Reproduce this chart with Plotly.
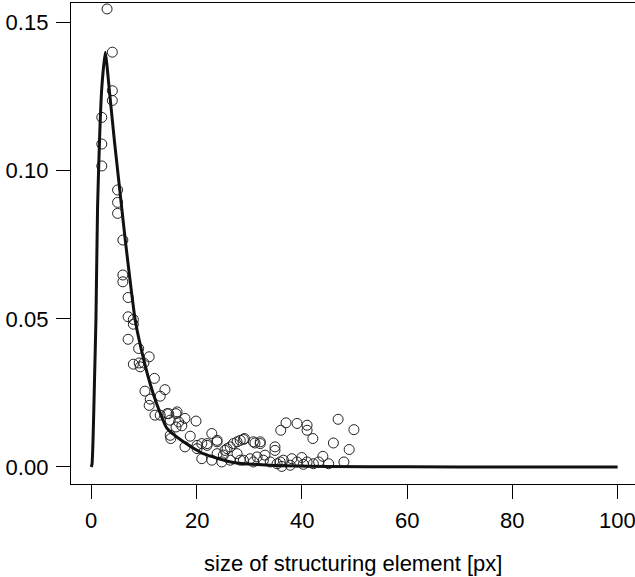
import plotly.graph_objects as go

# scatter observations (x: size of structuring element, y: frequency)
pts_x = [2, 2, 2, 3, 4, 4, 4, 5, 5, 5, 6, 6, 6, 7, 7, 7, 8, 8, 8,
         9, 9.1, 9.3, 10, 10.2, 11, 11.2, 11, 12, 12.1, 13.1, 13.1, 14, 14.4,
         15, 15, 15.1, 14.7, 16.1, 16.1, 16.3, 16.6, 17.2, 17.8, 17.8, 18.8,
         19.9, 20.1, 20.1, 21, 21, 22, 22, 22.9, 22.9, 23.9, 23.9, 23.9,
         25.1, 24.8, 25.4, 25.8, 26.4, 26.4, 27, 27.7, 28.3, 27.7, 28.3,
         29.1, 28.9, 28.9, 30.2, 30.8, 30.8, 31.1, 32.1, 31.5, 32.1, 32.7,
         33, 34, 34.9, 34.9, 35.3, 36, 35.9, 36.5, 36.2, 37, 38.1, 37.8,
         39.1, 39.1, 40, 40.3, 41, 41, 41, 42.1, 42.2, 43.2, 44, 45.1, 46,
         46.9, 48, 49, 49.9]
pts_y = [0.118, 0.109, 0.1016, 0.1546, 0.140, 0.127, 0.1237, 0.0935, 0.0893, 0.0856,
         0.0766, 0.0648, 0.0625, 0.0572, 0.0507, 0.0431, 0.0498, 0.0482, 0.0347,
         0.040, 0.0351, 0.0338, 0.0351, 0.0256, 0.0372, 0.0229, 0.0208, 0.0299,
         0.0175, 0.0239, 0.0175, 0.0261, 0.018,
         0.0158, 0.0107, 0.0096, 0.018, 0.018, 0.0135, 0.0186, 0.0152, 0.0139,
         0.0164, 0.0068, 0.0104,
         0.0155, 0.0062, 0.0073, 0.0079, 0.0028, 0.0073, 0.0079, 0.0113, 0.0023,
         0.0045, 0.009, 0.0085,
         0.004, 0.0017, 0.0056, 0.0062, 0.0023, 0.0068, 0.0079, 0.0045, 0.009,
         0.0085, 0.0023,
         0.0096, 0.0093, 0.0023, 0.0028, 0.0085, 0.0017, 0.0081, 0.0085, 0.0034,
         0.0079, 0.0023,
         0.004, 0.0017, 0.0068, 0.0056, 0.0011, 0.0124, 0.0017, 0.0023, 0.0002,
         0.0149, 0.0028, 0.0006,
         0.0147, 0.0017, 0.0032, 0.0009, 0.0141, 0.0124, 0.0017, 0.0096, 0.0011,
         0.0017, 0.0036, 0.0011, 0.0081,
         0.0161, 0.0017, 0.0059, 0.0126]

# fitted density curve
fit_x = [0, 0.15, 0.35, 0.6, 0.89, 1.2, 1.6, 2.0, 2.66, 3.5, 4.4, 5.2, 6.5,
         8.4, 10, 11.2, 12.5, 14.4, 17.5, 21.3, 27, 34, 45, 60, 80, 100]
fit_y = [0, 0.001, 0.010, 0.028, 0.050, 0.088, 0.112, 0.128, 0.140, 0.126,
         0.110, 0.097, 0.076, 0.049, 0.036, 0.028, 0.021, 0.013, 0.0085,
         0.0045, 0.0015, 0.0006, 0.0002, 0.00005, 0, 0]

x_ticks = [0, 20, 40, 60, 80, 100]
y_ticks = [0.00, 0.05, 0.10, 0.15]
x_title = "size of structuring element [px]"

FONT = "Liberation Sans, Arial, sans-serif"
FS = 22

fig = go.Figure()
fig.add_trace(go.Scatter(
    x=pts_x, y=pts_y, mode="markers",
    marker=dict(symbol="circle-open", size=10, color="#222222",
                line=dict(width=1, color="#222222")),
    showlegend=False, cliponaxis=False))
fig.add_trace(go.Scatter(
    x=fit_x, y=fit_y, mode="lines",
    line=dict(color="#111111", width=3, shape="spline", smoothing=0.5),
    showlegend=False))

# x tick labels and axis title as annotations (the "100" label sits at the page edge)
for v in x_ticks:
    fig.add_annotation(x=v, y=-0.075, xref="x", yref="paper", text=str(v),
                       showarrow=False, xanchor="center", yanchor="middle",
                       font=dict(family=FONT, size=FS, color="black"))
fig.add_annotation(x=0.5, y=-0.165, xref="paper", yref="paper", text=x_title,
                   showarrow=False, xanchor="center", yanchor="middle",
                   font=dict(family=FONT, size=FS, color="black"))

fig.update_layout(
    width=635, height=577,
    margin=dict(l=71, r=0, t=3, b=93, autoexpand=False),
    paper_bgcolor="white", plot_bgcolor="white",
    font=dict(family=FONT, size=FS, color="black"),
    xaxis=dict(range=[-3.85, 103.3], tickvals=x_ticks, showticklabels=False,
               showgrid=False, zeroline=False, automargin=False,
               showline=True, mirror=True, linecolor="black", linewidth=1.3,
               ticks="outside", ticklen=14, tickwidth=1.3, tickcolor="black"),
    yaxis=dict(range=[-0.00574, 0.1566], tickvals=y_ticks,
               ticktext=["%.2f" % v for v in y_ticks],
               showgrid=False, zeroline=False, automargin=False,
               showline=True, mirror=False, linecolor="black", linewidth=1.3,
               ticks="outside", ticklen=14, tickwidth=1.3, tickcolor="black",
               ticklabelstandoff=3,
               tickfont=dict(family=FONT, size=FS)),
)

fig.write_html("out.html", config={"displayModeBar": False},
               post_script="document.body.style.margin='0';"
                           "document.body.style.overflow='hidden';")
